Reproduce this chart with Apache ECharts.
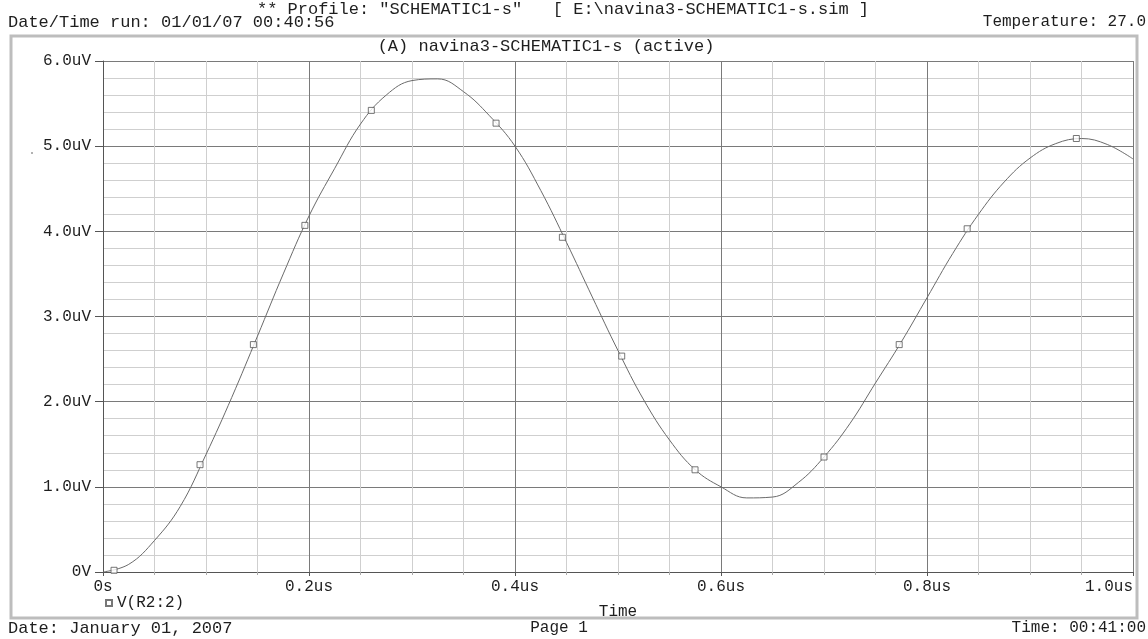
<!DOCTYPE html>
<html>
<head>
<meta charset="utf-8">
<title>V(R2:2)</title>
<script src="https://cdn.jsdelivr.net/npm/echarts@6/dist/echarts.min.js"></script>
<style>
  html, body { margin: 0; padding: 0; background: #fff; }
  #chart { width: 1148px; height: 639px; }
</style>
</head>
<body>
<div id="chart"></div>
<script>
const times = [0, 0.025, 0.05, 0.075, 0.1, 0.125, 0.15, 0.175, 0.2, 0.225,
  0.25, 0.275, 0.3, 0.325, 0.35, 0.375, 0.4, 0.425, 0.45, 0.475,
  0.5, 0.525, 0.55, 0.575, 0.6, 0.625, 0.65, 0.675, 0.7, 0.725,
  0.75, 0.775, 0.8, 0.825, 0.85, 0.875, 0.9, 0.925, 0.95, 0.975, 1.0];
const volts = [0, 0.09, 0.37, 0.77, 1.38, 2.05, 2.77, 3.5, 4.18, 4.74,
  5.26, 5.6, 5.77, 5.79, 5.64, 5.36, 5.0, 4.48, 3.87, 3.23,
  2.6, 2.02, 1.55, 1.2, 1.0, 0.87, 0.88, 1.05, 1.35, 1.74,
  2.22, 2.7, 3.22, 3.74, 4.2, 4.58, 4.86, 5.03, 5.09, 5.02, 4.85];

// the little square markers PSpice drops on the trace
const markTimes = [0.0107, 0.0942, 0.146, 0.196, 0.2605, 0.3816, 0.446,
  0.5036, 0.5748, 0.7, 0.773, 0.839, 0.945];
const markVolts = [0.02, 1.26, 2.67, 4.07, 5.42, 5.27, 3.93,
  2.535, 1.2, 1.35, 2.67, 4.03, 5.09];

const xTicks = [0, 0.2, 0.4, 0.6, 0.8, 1.0];
const xTickLabels = ['0s', '0.2us', '0.4us', '0.6us', '0.8us', '1.0us'];
const yTicks = [0, 1, 2, 3, 4, 5, 6];
const yTickLabels = ['0V', '1.0uV', '2.0uV', '3.0uV', '4.0uV', '5.0uV', '6.0uV'];

const mono = "'Liberation Mono', 'DejaVu Sans Mono', monospace";
const ink = '#1e1e1e';

const pick = (ticks, labels) => (v) => {
  const i = ticks.findIndex((t) => Math.abs(t - v) < 1e-9);
  return i < 0 ? '' : labels[i];
};

const txt = (text, x, y, align, size) => ({
  type: 'text',
  x: x,
  y: y,
  silent: true,
  style: {
    text: text,
    font: (size || 16) + 'px ' + mono,
    fill: ink,
    align: align,
    verticalAlign: 'middle',
  },
});

const myChart = echarts.init(document.getElementById('chart'), null, { renderer: 'canvas' });

const option = {
  backgroundColor: '#fff',
  animation: false,
  grid: { left: 103, right: 15, top: 61, bottom: 67 },
  legend: {
    data: [{ name: 'V(R2:2)', icon: 'rect' }],
    left: 100,
    top: 590,
    itemWidth: 6,
    itemHeight: 6,
    itemGap: 6,
    textStyle: { fontFamily: mono, fontSize: 16, color: ink },
  },
  xAxis: {
    type: 'value',
    min: 0,
    max: 1.0,
    interval: 0.2,
    name: 'Time',
    nameLocation: 'middle',
    nameGap: 32,
    nameTextStyle: { fontFamily: mono, fontSize: 16, color: ink },
    axisLine: { show: true, lineStyle: { color: '#555', width: 1 } },
    axisTick: { show: true, length: 4, lineStyle: { color: '#555' } },
    minorTick: { show: true, splitNumber: 4, length: 3, lineStyle: { color: '#aaa' } },
    axisLabel: {
      margin: 7,
      fontFamily: mono,
      fontSize: 16,
      color: ink,
      formatter: pick(xTicks, xTickLabels),
      alignMaxLabel: 'right',
    },
    splitLine: { show: true, lineStyle: { color: '#7a7a7a', width: 1 } },
    minorSplitLine: { show: true, lineStyle: { color: '#cfcfcf', width: 1 } },
  },
  yAxis: {
    type: 'value',
    min: 0,
    max: 6,
    interval: 1,
    axisLine: { show: true, lineStyle: { color: '#555', width: 1 } },
    axisTick: { show: true, length: 8, lineStyle: { color: '#555' } },
    minorTick: { show: false, splitNumber: 5 },
    axisLabel: {
      margin: 12,
      fontFamily: mono,
      fontSize: 16,
      color: ink,
      formatter: pick(yTicks, yTickLabels),
    },
    splitLine: { show: true, lineStyle: { color: '#7a7a7a', width: 1 } },
    minorSplitLine: { show: true, lineStyle: { color: '#cfcfcf', width: 1 } },
  },
  series: [
    {
      name: 'trace',
      type: 'line',
      data: times.map((t, i) => [t, volts[i]]),
      smooth: 0.4,
      showSymbol: false,
      symbol: 'none',
      lineStyle: { color: '#6a6a6a', width: 1 },
      z: 3,
    },
    {
      name: 'V(R2:2)',
      type: 'scatter',
      data: markTimes.map((t, i) => [t, markVolts[i]]),
      symbol: 'rect',
      symbolSize: 6,
      itemStyle: { color: '#fff', borderColor: '#555', borderWidth: 1 },
      z: 4,
    },
  ],
  graphic: [
    {
      type: 'rect',
      silent: true,
      shape: { x: 11, y: 36, width: 1126, height: 582 },
      style: { fill: 'none', stroke: '#bdbdbd', lineWidth: 3 },
      z: -1,
    },
    {
      type: 'circle',
      silent: true,
      shape: { cx: 32, cy: 153, r: 1 },
      style: { fill: '#999' },
    },
    txt('** Profile: "SCHEMATIC1-s"   [ E:\\navina3-SCHEMATIC1-s.sim ]', 563, 9, 'center', 17),
    txt('Date/Time run: 01/01/07 00:40:56', 8, 22, 'left', 17),
    txt('Temperature: 27.0', 1146, 22, 'right', 16),
    txt('(A) navina3-SCHEMATIC1-s (active)', 546, 46, 'center', 17),
    txt('Date: January 01, 2007', 8, 628, 'left', 17),
    txt('Page 1', 559, 628, 'center', 16),
    txt('Time: 00:41:00', 1146, 628, 'right', 16),
  ],
};

option && myChart.setOption(option);
</script>
</body>
</html>
